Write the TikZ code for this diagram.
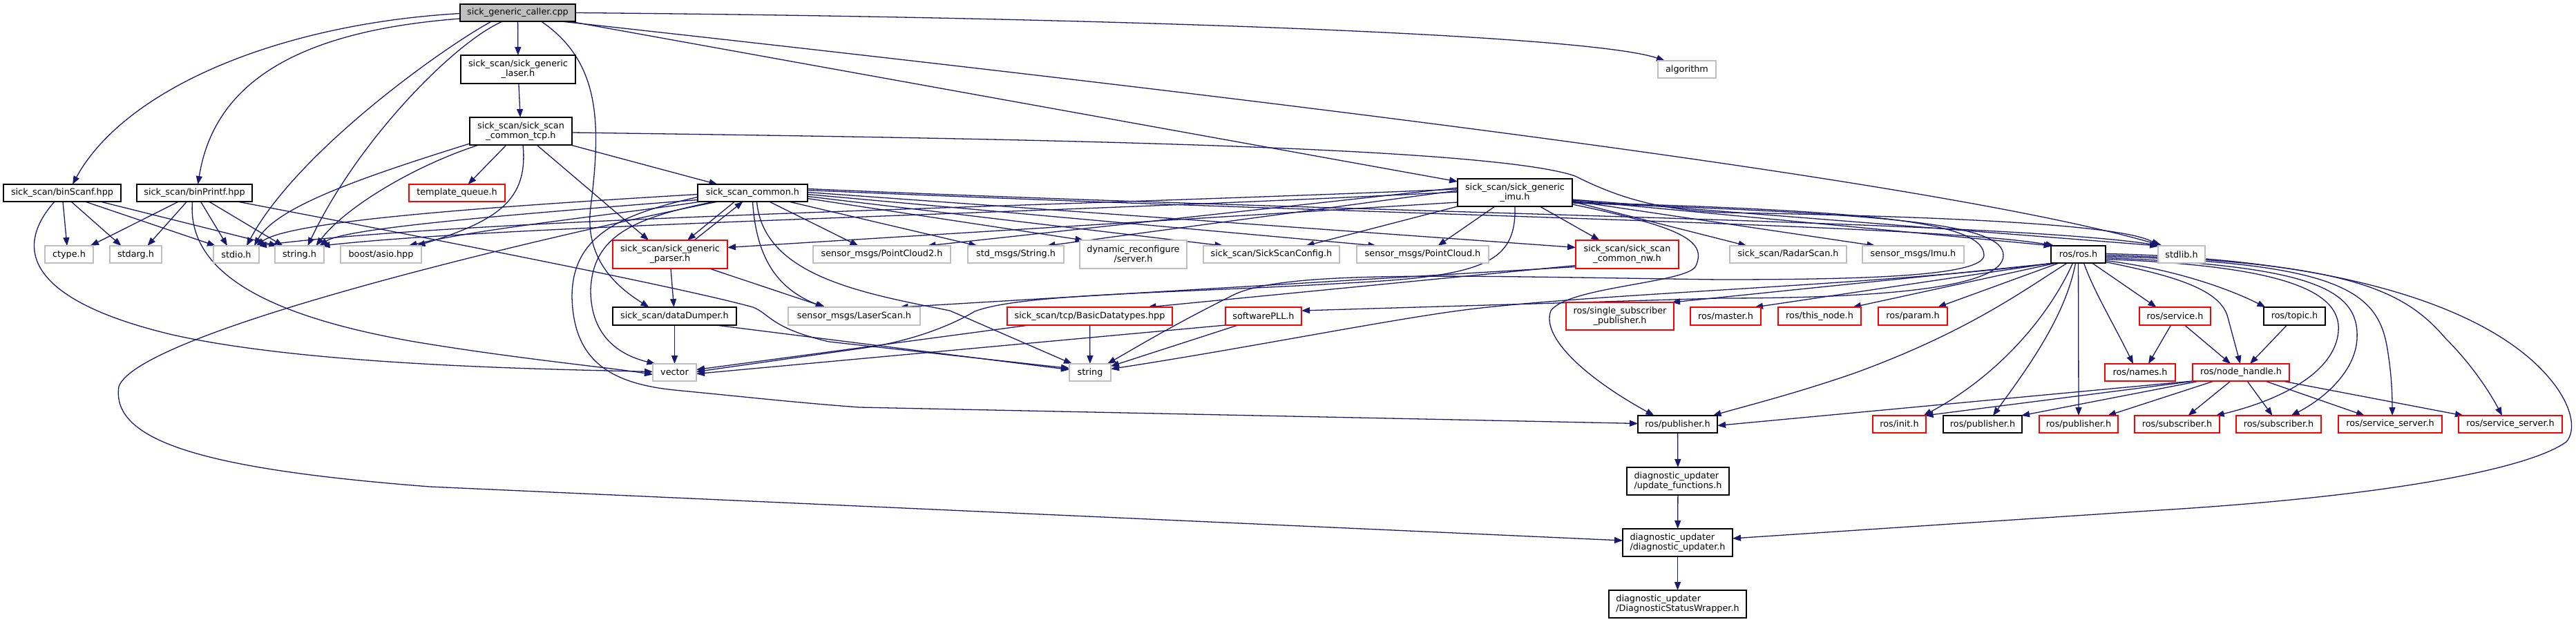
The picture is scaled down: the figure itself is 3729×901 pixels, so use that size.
\documentclass[tikz,border=0pt]{standalone}
\usepackage{fontspec}
\setmainfont{DejaVu Sans}
\usetikzlibrary{arrows.meta}
\pgfdeclarelayer{bg}
\pgfsetlayers{bg,main}
\newcommand\gf{\fontsize{12.8}{14}\selectfont}
\definecolor{edgec}{RGB}{25,25,112}
\definecolor{grayb}{RGB}{191,191,191}
\definecolor{redb}{RGB}{255,0,0}
\definecolor{callerfill}{RGB}{191,191,191}
\begin{document}
\begin{tikzpicture}[x=1pt,y=-1pt,
  nb/.style={draw, rectangle, fill=white, inner sep=0pt, outer sep=0pt, line width=1.4pt, font=\gf, align=center, minimum height=25pt},
  gb/.style={nb, draw=grayb},
  bb/.style={nb, draw=black},
  rb/.style={nb, draw=redb},
  e/.style={draw=edgec, line width=1.3pt, -{Triangle[length=12pt,width=9pt]}}]
\useasboundingbox (0,0) rectangle (3729,901);
% ---------- nodes ----------
\node[bb, fill=callerfill, minimum width=167pt] (caller) at (749.5,18.5) {sick\_generic\_caller.cpp};
\node[bb, minimum width=166pt, minimum height=41pt] (laser) at (750,100.5) {sick\_scan/sick\_generic\\\_laser.h};
\node[bb, minimum width=148pt, minimum height=40pt] (tcp) at (754,190) {sick\_scan/sick\_scan\\\_common\_tcp.h};
\node[bb, minimum width=170pt] (binScanf) at (90,279.5) {sick\_scan/binScanf.hpp};
\node[bb, minimum width=167pt] (binPrintf) at (281.5,279.5) {sick\_scan/binPrintf.hpp};
\node[rb, minimum width=139pt] (tq) at (661.5,279.5) {template\_queue.h};
\node[bb, minimum width=159pt] (common) at (1089.5,279.5) {sick\_scan\_common.h};
\node[bb, minimum width=166pt, minimum height=40pt] (imu) at (2193,279) {sick\_scan/sick\_generic\\\_imu.h};
\node[gb, minimum width=84pt] (algorithm) at (2442,100.5) {algorithm};
\node[gb, minimum width=70pt] (ctype) at (100,368.5) {ctype.h};
\node[gb, minimum width=75pt] (stdarg) at (196.5,368.5) {stdarg.h};
\node[gb, minimum width=66pt] (stdio) at (342,368.5) {stdio.h};
\node[gb, minimum width=71pt] (stringh) at (433.5,368.5) {string.h};
\node[gb, minimum width=117pt] (boost) at (551.5,368.5) {boost/asio.hpp};
\node[rb, minimum width=166pt, minimum height=41pt] (parser) at (970,368.5) {sick\_scan/sick\_generic\\\_parser.h};
\node[gb, minimum width=199pt] (pc2) at (1276.5,368.5) {sensor\_msgs/PointCloud2.h};
\node[gb, minimum width=139pt] (strmsg) at (1470.5,368.5) {std\_msgs/String.h};
\node[gb, minimum width=155pt, minimum height=41pt] (dynrec) at (1640.5,368.5) {dynamic\_reconfigure\\/server.h};
\node[gb, minimum width=197pt] (ssconf) at (1840.5,368.5) {sick\_scan/SickScanConfig.h};
\node[gb, minimum width=191pt] (pc) at (2059.5,368.5) {sensor\_msgs/PointCloud.h};
\node[rb, minimum width=149pt, minimum height=41pt] (nw) at (2355.5,368.5) {sick\_scan/sick\_scan\\\_common\_nw.h};
\node[gb, minimum width=169pt] (radar) at (2588.5,368.5) {sick\_scan/RadarScan.h};
\node[gb, minimum width=147pt] (imumsg) at (2769.5,368.5) {sensor\_msgs/Imu.h};
\node[bb, minimum width=79pt] (ros) at (3008.5,368.5) {ros/ros.h};
\node[gb, minimum width=68pt] (stdlib) at (3158,368.5) {stdlib.h};
\node[bb, minimum width=179pt, minimum height=26pt] (dd) at (976.5,458) {sick\_scan/dataDumper.h};
\node[gb, minimum width=191pt, minimum height=26pt] (laserscan) at (1236.5,458) {sensor\_msgs/LaserScan.h};
\node[rb, minimum width=239pt, minimum height=26pt] (basic) at (1577.5,458) {sick\_scan/tcp/BasicDatatypes.hpp};
\node[rb, minimum width=110pt, minimum height=26pt] (pll) at (1829,458) {softwarePLL.h};
\node[rb, minimum width=156pt, minimum height=40pt] (single) at (2345,458) {ros/single\_subscriber\\\_publisher.h};
\node[rb, minimum width=102pt, minimum height=26pt] (master) at (2498,458) {ros/master.h};
\node[rb, minimum width=120pt, minimum height=26pt] (thisnode) at (2634,458) {ros/this\_node.h};
\node[rb, minimum width=100pt, minimum height=26pt] (param) at (2769,458) {ros/param.h};
\node[rb, minimum width=103pt, minimum height=26pt] (service) at (3148.5,458) {ros/service.h};
\node[bb, minimum width=89pt, minimum height=26pt] (topic) at (3321.5,458) {ros/topic.h};
\node[gb, minimum width=63pt] (vector) at (976.5,539.5) {vector};
\node[gb, minimum width=60pt] (string) at (1578,539.5) {string};
\node[rb, minimum width=102pt] (names) at (3098,539.5) {ros/names.h};
\node[rb, minimum width=140pt] (nh) at (3244,539.5) {ros/node\_handle.h};
\node[bb, minimum width=115pt] (pub) at (2428.5,614.5) {ros/publisher.h};
\node[rb, minimum width=77pt] (init) at (2749.5,614.5) {ros/init.h};
\node[bb, minimum width=114pt] (pub2) at (2870,614.5) {ros/publisher.h};
\node[rb, minimum width=114pt] (pub3) at (3009,614.5) {ros/publisher.h};
\node[rb, minimum width=123pt] (sub1) at (3151.5,614.5) {ros/subscriber.h};
\node[rb, minimum width=123pt] (sub2) at (3298.5,614.5) {ros/subscriber.h};
\node[rb, minimum width=150pt] (ss1) at (3460,614.5) {ros/service\_server.h};
\node[rb, minimum width=150pt] (ss2) at (3634,614.5) {ros/service\_server.h};
\node[bb, align=left, minimum width=148pt, minimum height=40pt] (upd) at (2429,697) {diagnostic\_updater\\/update\_functions.h};
\node[bb, align=left, minimum width=159pt, minimum height=40pt] (diag) at (2428.5,786) {diagnostic\_updater\\/diagnostic\_updater.h};
\node[bb, align=left, minimum width=199pt, minimum height=40pt] (wrap) at (2428.5,875) {diagnostic\_updater\\/DiagnosticStatusWrapper.h};
% ---------- edges ----------
\begin{pgfonlayer}{bg}
\fill[white] (0,0) rectangle (3729,901);
% caller
\draw[e] (caller) -- (laser);
\draw[e] ([yshift=-1pt]caller.west) .. controls (400,35) and (180,130) .. ([xshift=15pt]binScanf.north);
\draw[e] ([yshift=-8.5pt]caller.west) .. controls (430,45) and (310,120) .. ([xshift=5pt]binPrintf.north);
\draw[e] ([xshift=-38pt]caller.south) .. controls (640,70) and (430,220) .. ([xshift=15pt]stdio.north);
\draw[e] ([xshift=-22pt]caller.south) .. controls (660,60) and (520,200) .. ([xshift=12pt]stringh.north);
\draw[e] ([xshift=34pt]caller.south) .. controls (870,90) and (870,180) .. (855,300) .. controls (845,380) and (900,420) .. ([xshift=-37pt]dd.north);
\draw[e] ([xshift=75pt]caller.south) -- ([yshift=16pt]imu.west);
\draw[e] (caller.east) .. controls (1600,25) and (2300,50) .. ([xshift=-32pt]algorithm.north);
\draw[e] ([xshift=63pt]caller.south) .. controls (1800,140) and (2800,260) .. ([xshift=-28pt]stdlib.north);
% laser, tcp
\draw[e] (laser) -- (tcp);
\draw[e] ([xshift=-21pt]tcp.south) -- ([xshift=16pt]tq.north);
\draw[e] ([xshift=72pt]tcp.south) -- ([xshift=-51pt]common.north);
\draw[e] ([xshift=23pt]tcp.south) -- ([xshift=-31pt]parser.north);
\draw[e] ([yshift=-18pt]tcp.west) .. controls (520,258) and (400,300) .. ([xshift=26pt]stdio.north);
\draw[e] ([xshift=-61pt]tcp.south) .. controls (600,240) and (500,300) .. ([xshift=24pt]stringh.north);
\draw[e] ([xshift=3pt]tcp.south) .. controls (765,290) and (720,320) .. ([xshift=52pt]boost.north);
\draw[e] ([yshift=-2pt]tcp.east) .. controls (1400,200) and (2150,210) .. (2280,255) .. controls (2340,285) and (2400,305) .. (2500,308) .. controls (2900,315) and (3080,330) .. ([xshift=-32pt]stdlib.north);
% binScanf
\draw[e] ([xshift=1pt]binScanf.south) -- ([xshift=-3pt]ctype.north);
\draw[e] ([xshift=13pt]binScanf.south) -- ([xshift=-21pt]stdarg.north);
\draw[e] ([xshift=33pt]binScanf.south) -- ([xshift=-30pt]stdio.north);
\draw[e] ([xshift=55pt]binScanf.south) -- ([xshift=-32pt]stringh.north);
\draw[e] ([xshift=-11pt]binScanf.south) .. controls (10,370) and (60,440) .. (250,485) .. controls (450,530) and (800,535) .. ([yshift=1pt]vector.west);
% binPrintf
\draw[e] ([xshift=-23pt]binPrintf.south) -- ([xshift=31pt]ctype.north);
\draw[e] ([xshift=-11pt]binPrintf.south) -- ([xshift=17pt]stdarg.north);
\draw[e] ([xshift=9pt]binPrintf.south) -- ([xshift=-13pt]stdio.north);
\draw[e] ([xshift=21pt]binPrintf.south) -- ([xshift=-24pt]stringh.north);
\draw[e] ([xshift=-3pt]binPrintf.south) .. controls (270,400) and (400,460) .. (600,495) .. controls (750,520) and (880,532) .. ([yshift=-3pt]vector.west);
\draw[e] ([xshift=62pt]binPrintf.south) .. controls (700,360) and (1000,420) .. (1090,445) .. controls (1115,455) and (1115,475) .. (1200,495) -- ([yshift=6pt]string.west);
% common
\draw[e] ([yshift=-2pt]common.west) .. controls (700,300) and (420,320) .. ([xshift=29pt]stdio.north);
\draw[e] ([yshift=-10pt]common.west) .. controls (750,310) and (500,330) .. ([xshift=29pt]stringh.north);
\draw[e] ([xshift=-75pt]common.south) .. controls (900,310) and (700,330) .. ([xshift=40pt]boost.north);
\draw[e] ([xshift=-26pt]common.south) -- ([xshift=25pt]parser.north);
\draw[e] ([xshift=35pt]parser.north) -- ([xshift=-14pt]common.south);
\draw[e] ([xshift=-55pt]common.south) .. controls (920,315) and (858,340) .. (855,420) .. controls (855,490) and (900,515) .. ([xshift=-28pt]vector.north);
\draw[e] ([yshift=-6pt]common.west) .. controls (900,310) and (828,340) .. (828,430) .. controls (830,520) and (880,555) .. (976,565) .. controls (1080,575) and (1150,583) .. (1244,590) -- ([yshift=1pt]pub.west);
\draw[e] ([xshift=6pt]common.south) .. controls (1105,400) and (1250,425) .. (1375,450) -- ([xshift=-26pt]string.north);
\draw[e] (common.south) .. controls (1095,380) and (1130,420) .. ([xshift=-44pt]laserscan.north);
\draw[e] ([xshift=24pt]common.south) -- ([xshift=-34pt]pc2.north);
\draw[e] ([xshift=52pt]common.south) -- ([xshift=-56pt]strmsg.north);
\draw[e] ([yshift=-8pt]common.east) -- ([xshift=-72pt]dynrec.north);
\draw[e] ([yshift=-5pt]common.east) -- ([xshift=-70pt]ssconf.north);
\draw[e] ([yshift=-2pt]common.east) -- ([xshift=-67pt]pc.north);
\draw[e] ([yshift=1pt]common.east) -- ([yshift=10pt]nw.west);
\draw[e] ([yshift=6pt]common.east) .. controls (2000,310) and (2900,320) .. ([xshift=-30pt]stdlib.north);
\draw[e] ([yshift=4pt]common.east) .. controls (2000,312) and (2800,325) .. ([xshift=-35pt]ros.north);
\draw[e] ([xshift=-50pt]common.south) .. controls (800,340) and (200,480) .. (172,560) .. controls (160,640) and (300,680) .. (622,705) -- ([yshift=3pt]diag.west);
% parser, dataDumper
\draw[e] ([xshift=1pt]parser.south) -- ([xshift=-1pt]dd.north);
\draw[e] ([xshift=57pt]parser.south) -- ([xshift=-42pt]laserscan.north);
\draw[e] (dd) -- (vector);
\draw[e] ([xshift=60pt]dd.south) -- ([yshift=4pt]string.west);
% imu
\draw[e] ([yshift=-14pt]imu.west) -- ([yshift=10pt]parser.east);
\draw[e] ([yshift=5pt]imu.west) .. controls (1500,300) and (700,315) .. ([xshift=32pt]stdio.north);
\draw[e] ([yshift=1pt]imu.west) .. controls (1500,310) and (750,325) .. ([xshift=32pt]stringh.north);
\draw[e] ([yshift=7pt]imu.west) -- ([xshift=66pt]pc2.north);
\draw[e] ([yshift=3pt]imu.west) -- ([xshift=45pt]strmsg.north);
\draw[e] (imu.south west) -- ([xshift=50pt]ssconf.north);
\draw[e] ([xshift=-29pt]imu.south) -- ([xshift=22pt]pc.north);
\draw[e] ([xshift=36pt]imu.south) -- ([xshift=-40pt]nw.north);
\draw[e] ([yshift=-10pt]imu.east) -- ([xshift=-34pt]stdlib.north);
\draw[e] ([yshift=-11pt]imu.east) -- ([xshift=-38pt]ros.north);
\draw[e] ([yshift=-12pt]imu.east) -- ([xshift=-55pt]imumsg.north);
\draw[e] ([yshift=-13pt]imu.east) -- ([xshift=-60pt]radar.north);
\draw[e] ([yshift=-17pt]imu.east) .. controls (2440,330) and (2470,350) .. (2455,385) .. controls (2445,410) and (2270,415) .. (2245,450) .. controls (2230,490) and (2300,550) .. ([xshift=-34pt]pub.north);
\draw[e] ([yshift=-14pt]imu.east) .. controls (2700,305) and (2872,320) .. (2872,370) .. controls (2870,400) and (2700,405) .. (2488,405) .. controls (2100,400) and (1850,390) .. (1780,430) .. controls (1700,470) and (1650,500) .. ([xshift=25pt]string.north);
\draw[e] ([yshift=-15pt]imu.east) .. controls (2750,310) and (2900,325) .. (2900,370) .. controls (2900,420) and (2700,432) .. (2488,432) -- ([yshift=8pt]pll.east);
\draw[e] (imu.south) .. controls (2195,380) and (2150,400) .. (1950,410) .. controls (1700,425) and (1480,425) .. (1411,451) .. controls (1380,470) and (1320,495) .. (1244,505) -- ([yshift=1pt]vector.east);
% common_nw
\draw[e] ([yshift=-16pt]nw.west) -- ([xshift=84pt]basic.north);
\draw[e] ([yshift=-18pt]nw.west) -- ([xshift=66pt]laserscan.north);
% BasicDatatypes, softwarePLL
\draw[e] ([xshift=-88pt]basic.south) -- ([yshift=4pt]vector.east);
\draw[e] (basic) -- (string);
\draw[e] (pll.south west) -- ([yshift=-2pt]vector.east);
\draw[e] ([xshift=-37pt]pll.south) -- ([yshift=9pt]string.east);
% ros
\draw[e] ([xshift=-33pt]ros.south) -- ([xshift=75pt]single.north);
\draw[e] ([xshift=-35pt]ros.south) .. controls (2700,415) and (2300,425) .. (2112,450) .. controls (2000,465) and (1800,505) .. ([yshift=5pt]string.east);
\draw[e] ([xshift=-37pt]ros.south) -- ([xshift=42pt]master.north);
\draw[e] ([xshift=-32pt]ros.south) -- ([xshift=48pt]thisnode.north);
\draw[e] ([xshift=-28pt]ros.south) -- ([xshift=36pt]param.north);
\draw[e] ([xshift=-16pt]ros.south) .. controls (2930,420) and (2850,480) .. (2686,540) .. controls (2600,570) and (2520,590) .. ([xshift=51pt]pub.north);
\draw[e] ([xshift=-8pt]ros.south) .. controls (2970,450) and (2900,540) .. ([xshift=35pt]init.north);
\draw[e] ([xshift=-4pt]ros.south) .. controls (2990,460) and (2930,540) .. ([xshift=15pt]pub2.north);
\draw[e] (ros) -- (pub3);
\draw[e] ([xshift=8pt]ros.south) .. controls (3030,420) and (3060,470) .. ([xshift=-10pt]names.north);
\draw[e] ([xshift=20pt]ros.south) -- ([xshift=-27pt]service.north);
\draw[e] ([yshift=-9pt]ros.east) .. controls (3150,390) and (3230,420) .. ([xshift=-42pt]topic.north);
\draw[e] ([yshift=-11pt]ros.east) .. controls (3150,400) and (3215,420) .. (3225,460) -- ([xshift=-1pt]nh.north);
\draw[e] ([yshift=-7pt]ros.east) .. controls (3300,385) and (3390,420) .. (3385,480) .. controls (3380,540) and (3300,580) .. ([xshift=56pt]sub1.north);
\draw[e] ([yshift=-5pt]ros.east) .. controls (3350,385) and (3415,420) .. (3412,490) .. controls (3410,540) and (3360,580) .. ([xshift=18pt]sub2.north);
\draw[e] ([yshift=-3pt]ros.east) .. controls (3380,380) and (3440,420) .. (3455,500) .. controls (3462,540) and (3463,570) .. ([xshift=3pt]ss1.north);
\draw[e] ([yshift=-1pt]ros.east) .. controls (3400,380) and (3480,420) .. (3540,490) .. controls (3580,530) and (3605,570) .. ([xshift=-12pt]ss2.north);
\draw[e] ([yshift=1pt]ros.east) .. controls (3400,375) and (3620,450) .. (3700,560) .. controls (3725,595) and (3728,625) .. (3715,640) .. controls (3660,680) and (3450,720) .. (3110,740) -- ([yshift=6pt]diag.east);
% service, topic, node_handle
\draw[e] ([xshift=-6pt]service.south) -- ([xshift=12pt]names.north);
\draw[e] ([xshift=14pt]service.south) -- ([xshift=-15pt]nh.north);
\draw[e] ([xshift=-11pt]topic.south) -- ([xshift=13pt]nh.north);
\draw[e] (nh.south west) -- ([yshift=-2pt]pub.east);
\draw[e] ([xshift=3pt]nh.south west) -- ([xshift=37pt]init.north);
\draw[e] ([xshift=10pt]nh.south west) -- ([xshift=56pt]pub2.north);
\draw[e] ([xshift=31pt]nh.south west) -- ([xshift=42pt]pub3.north);
\draw[e] ([xshift=-15pt]nh.south) -- ([xshift=16pt]sub1.north);
\draw[e] ([xshift=9pt]nh.south) -- ([xshift=-9pt]sub2.north);
\draw[e] ([xshift=35pt]nh.south) -- ([xshift=-37pt]ss1.north);
\draw[e] ([xshift=60pt]nh.south) -- ([xshift=-68pt]ss2.north);
% publisher chain
\draw[e] (pub) -- (upd);
\draw[e] (upd) -- (diag);
\draw[e] (diag) -- (wrap);
\end{pgfonlayer}
\end{tikzpicture}
\end{document}
